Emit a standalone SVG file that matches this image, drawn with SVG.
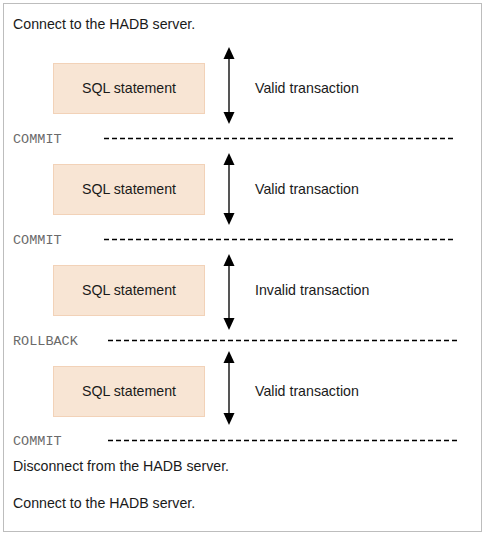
<svg xmlns="http://www.w3.org/2000/svg" width="485" height="536" viewBox="0 0 485 536">
<style>
.t{font-family:"Liberation Sans",Arial,sans-serif;font-size:14.2px;fill:#1a1a1a}
.m{font-family:"Liberation Mono","Courier New",monospace;font-size:13.5px;fill:#6a6a6a}
.box{fill:#f8e5d4;stroke:#f2d2b8;stroke-width:1}
.dash{stroke:#000;stroke-width:1.3;stroke-dasharray:5 3;fill:none}
.shaft{stroke:#555;stroke-width:2;fill:none}
.head{fill:#000}
</style>
<defs>
<g id="up"><path class="head" d="M0,0 L5.5,12 L-5.5,12 Z"/></g>
<g id="down"><path class="head" d="M0,0 L5.5,-12 L-5.5,-12 Z"/></g>
</defs>
<rect x="3.5" y="3.5" width="478" height="528" fill="#fff" stroke="#bdbdbd" stroke-width="1"/>
<text class="t" x="13" y="29">Connect to the HADB server.</text>
<g id="n1"><rect class="box" x="53.5" y="63.5" width="151" height="50"/><text class="t" x="129" y="93" text-anchor="middle">SQL statement</text></g>
<g id="n2"><rect class="box" x="53.5" y="164.5" width="151" height="50"/><text class="t" x="129" y="194" text-anchor="middle">SQL statement</text></g>
<g id="n3"><rect class="box" x="53.5" y="265.5" width="151" height="50"/><text class="t" x="129" y="295" text-anchor="middle">SQL statement</text></g>
<g id="n4"><rect class="box" x="53.5" y="366.5" width="151" height="50"/><text class="t" x="129" y="396" text-anchor="middle">SQL statement</text></g>
<g id="connectors">
<line class="shaft" x1="229" y1="56" x2="229" y2="114"/>
<use href="#up" x="229" y="47"/><use href="#down" x="229" y="124"/>
<line class="shaft" x1="229" y1="162" x2="229" y2="215"/>
<use href="#up" x="229" y="153"/><use href="#down" x="229" y="225"/>
<line class="shaft" x1="229" y1="263" x2="229" y2="320"/>
<use href="#up" x="229" y="254"/><use href="#down" x="229" y="330"/>
<line class="shaft" x1="229" y1="360" x2="229" y2="415"/>
<use href="#up" x="229" y="351"/><use href="#down" x="229" y="425"/>
<line class="dash" x1="104" y1="138.5" x2="455" y2="138.5"/>
<line class="dash" x1="104" y1="239.5" x2="455" y2="239.5"/>
<line class="dash" x1="108" y1="340.5" x2="457" y2="340.5"/>
<line class="dash" x1="108" y1="440.5" x2="457" y2="440.5"/>
</g>
<text class="t" x="255" y="93">Valid transaction</text>
<text class="t" x="255" y="194">Valid transaction</text>
<text class="t" x="255" y="295">Invalid transaction</text>
<text class="t" x="255" y="396">Valid transaction</text>
<text class="m" x="13" y="143">COMMIT</text>
<text class="m" x="13" y="244">COMMIT</text>
<text class="m" x="13" y="345">ROLLBACK</text>
<text class="m" x="13" y="445">COMMIT</text>
<text class="t" x="13" y="471">Disconnect from the HADB server.</text>
<text class="t" x="13" y="508">Connect to the HADB server.</text>
</svg>
